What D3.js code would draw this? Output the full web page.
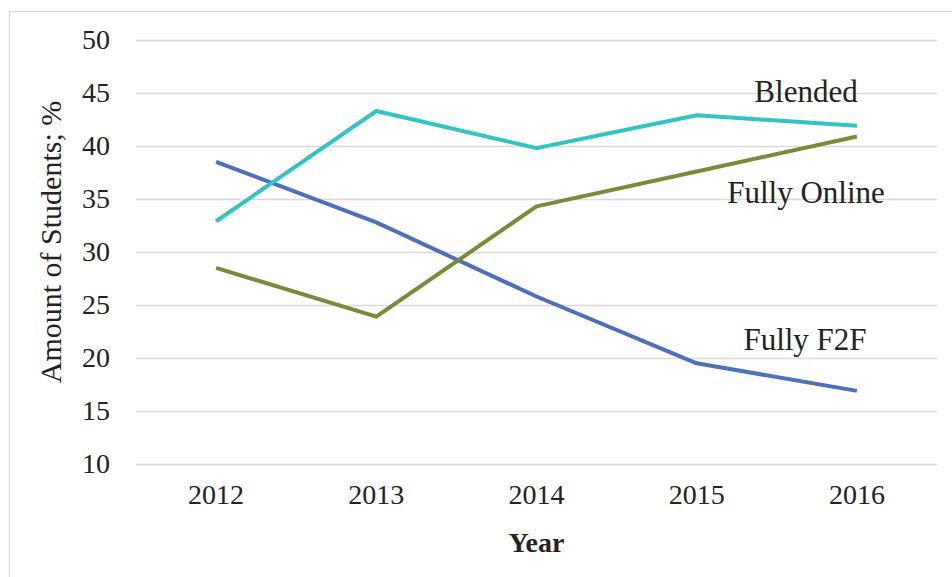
<!DOCTYPE html>
<html>
<head>
<meta charset="utf-8">
<script src="https://cdn.jsdelivr.net/npm/d3@7"></script>
<style>
  body { margin: 0; background: #fff; }
  text { font-family: "Liberation Serif", "Times New Roman", serif; fill: #222; }
</style>
</head>
<body>
<svg id="chart"></svg>
<script>
const years = ['2012', '2013', '2014', '2015', '2016'];
const blended = [32.9, 43.3, 39.8, 42.9, 41.9];
const fullyOnline = [28.5, 23.9, 34.3, 37.6, 40.9];
const fullyF2F = [38.5, 32.8, 25.8, 19.5, 16.9];
const yTicks = [10, 15, 20, 25, 30, 35, 40, 45, 50];

const seriesList = [
    { name: 'Fully F2F', values: fullyF2F, color: '#4E6FBB', label: { x: 805, y: 350 } },
    { name: 'Fully Online', values: fullyOnline, color: '#798A38', label: { x: 806, y: 203 } },
    { name: 'Blended', values: blended, color: '#30C4C2', label: { x: 806, y: 102 } },
];

const width = 952;
const height = 577;
const plot = { left: 136, right: 937, top: 40, bottom: 464 };

const svg = d3.select('#chart')
    .attr('width', width)
    .attr('height', height);

// chart border
svg.append('rect')
    .attr('x', 9.5)
    .attr('y', 11.5)
    .attr('width', width)
    .attr('height', height)
    .attr('fill', 'none')
    .attr('stroke', '#d9d9d9')
    .attr('stroke-width', 1);

const xScale = d3.scaleBand().domain(years).range([plot.left, plot.right]);
const yScale = d3.scaleLinear().domain([10, 50]).range([plot.bottom, plot.top]);
const posX = (d, i) => xScale(years[i]) + xScale.bandwidth() / 2;

// gridlines + y labels
const yAxis = d3.axisLeft(yScale)
    .tickValues(yTicks)
    .tickSize(-(plot.right - plot.left))
    .tickPadding(26);

svg.append('g')
    .attr('transform', `translate(${plot.left}, 0)`)
    .call(yAxis)
    .call((g) => g.select('.domain').remove())
    .call((g) => g.selectAll('line').attr('stroke', '#d9d9d9').attr('stroke-width', 1.3))
    .call((g) => g.selectAll('text').attr('font-size', 28).attr('font-family', '"Liberation Serif", serif').attr('fill', '#222'));

const xAxis = d3.axisBottom(xScale).tickSize(0).tickPadding(20);

svg.append('g')
    .attr('transform', `translate(0, ${plot.bottom})`)
    .call(xAxis)
    .call((g) => g.select('.domain').remove())
    .call((g) => g.selectAll('text').attr('font-size', 28).attr('font-family', '"Liberation Serif", serif').attr('fill', '#222'));

// axis titles
svg.append('text')
    .attr('transform', 'rotate(-90)')
    .attr('x', -(plot.top + plot.bottom) / 2 + 10)
    .attr('y', 61)
    .attr('text-anchor', 'middle')
    .attr('font-size', 30)
    .text('Amount of Students; %');

svg.append('text')
    .attr('x', xScale('2014') + xScale.bandwidth() / 2)
    .attr('y', 552)
    .attr('text-anchor', 'middle')
    .attr('font-size', 28)
    .attr('font-weight', 'bold')
    .text('Year');

const line = d3.line()
    .x(posX)
    .y((d) => yScale(d));

svg.append('g')
    .attr('class', 'lines')
    .selectAll('path')
    .data(seriesList)
    .enter()
    .append('path')
    .attr('d', (s) => line(s.values))
    .attr('fill', 'none')
    .attr('stroke', (s) => s.color)
    .attr('stroke-width', 4)
    .attr('stroke-linejoin', 'round');

svg.append('g')
    .attr('class', 'labels')
    .selectAll('text')
    .data(seriesList)
    .enter()
    .append('text')
    .attr('x', (s) => s.label.x)
    .attr('y', (s) => s.label.y)
    .attr('text-anchor', 'middle')
    .attr('font-size', 31)
    .text((s) => s.name);
</script>
</body>
</html>
